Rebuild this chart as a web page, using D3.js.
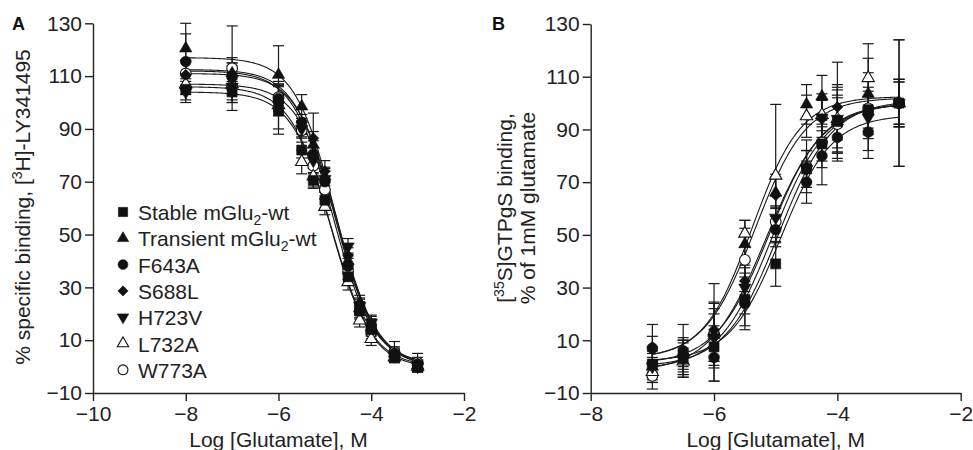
<!DOCTYPE html>
<html>
<head>
<meta charset="utf-8">
<script src="https://cdn.jsdelivr.net/npm/d3@7"></script>
<style>
  body { margin: 0; background: #fff; }
  svg { font-family: "Liberation Sans", Arial, Helvetica, sans-serif; }
  .axis path, .axis line { stroke: #222; stroke-width: 1.4; }
  .axis text { font-size: 21px; fill: #222; }
</style>
</head>
<body>
<div id="app"></div>
<script>
// series (same order in both panels)
var seriesNames = ["Stable mGlu2-wt", "Transient mGlu2-wt", "F643A", "S688L", "H723V", "L732A", "W773A"];
var seriesSymbols = ["square", "triangle", "circle", "diamond", "triangleDown", "triangleOpen", "circleOpen"];

// panel A: [3H]-LY341495 displacement
var doseA = [-8, -7, -6, -5.5, -5.25, -5, -4.5, -4.25, -4, -3.5, -3];
var valuesA = [
  [105, 104, 97, 82, 70.5, 63, 34, 21, 14, 4, 0],
  [120.5, 111, 110.5, 98.5, 84, 72, 40, 22, 15, 5, 0.5],
  [115.5, 110, 101.5, 92.5, 80.5, 70, 38, 23, 15, 5, 1],
  [110.5, 109, 101, 91, 86.5, 74, 42, 24, 16, 4.5, 0.5],
  [104, 106, 99, 90, 78, 71, 45.5, 23, 16.5, 4, 0],
  [107, 107, 99, 77.5, 72, 60.5, 32, 17.5, 10.5, 3.5, 0],
  [111, 113, 102, 89.5, 76, 67, 36, 21, 13, 5.5, 1.5]
];
var errorsA = [
  [4, 4, 9, 3, 3, 3, 3, 2.5, 2.5, 2, 2],
  [9.5, 6, 11, 4.5, 5, 3.5, 3, 2.5, 3, 2, 2],
  [10.5, 5, 5, 3, 5, 4, 3, 3, 3, 2.5, 2.5],
  [5, 6, 6, 3, 9.5, 4, 3, 3, 3, 2, 2],
  [4, 5, 4, 3, 3, 4, 3, 2.5, 3, 2, 2],
  [4, 7, 9, 4.5, 4, 3, 3, 2.5, 2.5, 2, 2],
  [5, 16, 5, 3, 3, 3.5, 3, 3, 2.5, 4, 3.5]
];
// fitted curves A
var topA = [104, 117, 112.5, 111, 107, 106, 112];
var bottomA = [0, 0, 0.5, 0.5, 0, -0.5, 1];
var logMidA = [-4.85, -4.78, -4.78, -4.74, -4.72, -4.87, -4.82];
var hillA = [-1, -1, -1, -1, -1, -1, -1];

// panel B: [35S]GTPgS binding
var doseB = [-7, -6.5, -6, -5.5, -5, -4.5, -4.25, -4, -3.5, -3];
var valuesB = [
  [1, 3, 7.5, 25.5, 39, 75, 84.5, 93, 97.5, 100],
  [0, 5, 12, 46.5, 66, 99.5, 102.5, 93, 103.5, 100],
  [7, 6, 3.5, 24, 52, 70, 80, 87, 89, 100],
  [7.5, 5, 14, 32.5, 65, 76, 94, 98.5, 97, 100],
  [0, 3, 11, 30, 56.5, 75, 94.5, 94, 94.5, 100],
  [-2, 2, 13, 50.5, 72.5, 95, 95.5, 94, 109.5, 100],
  [-3.5, 4, 12.5, 40.5, 55, 76, 85, 92, 98, 100]
];
var errorsB = [
  [5, 7, 8, 10, 8.5, 7, 9, 10, 7, 24],
  [6, 6, 10, 9, 6, 7.5, 8, 12, 8, 8],
  [9, 10, 9, 10, 5, 8, 11, 8, 7, 9],
  [4, 5, 10, 6, 8, 10, 7, 17, 9, 8],
  [5, 6, 9, 10, 4, 7, 9, 13, 8, 9],
  [4, 5, 18.5, 5, 27, 8, 6, 8, 13, 9],
  [5, 6, 12, 12, 6, 6, 7, 14, 19, 24]
];
var topB = [101, 102, 95.5, 100, 100, 102.5, 100];
var bottomB = [0, 3, 2, 1, -1, 3, -2];
var logMidB = [-4.95, -5.33, -4.92, -5.1, -5.05, -5.38, -5.15];
var hillB = [1, 1.05, 1.05, 1, 1, 1.1, 0.95];

var yTicks = [-10, 10, 30, 50, 70, 90, 110, 130];

var width = 973, height = 450;

var svg = d3.select("#app").append("svg")
    .attr("width", width)
    .attr("height", height);

// marker drawing
function symbolPath(kind, size) {
  var s = size || 1;
  if (kind == "square") return d3.symbol(d3.symbolSquare, 100 * s)();
  if (kind == "circle" || kind == "circleOpen") return d3.symbol(d3.symbolCircle, 90 * s)();
  if (kind == "diamond") return d3.symbol(d3.symbolSquare, 60 * s)();
  return d3.symbol(d3.symbolTriangle, 66 * s)();
}
function symbolTransform(kind) {
  if (kind == "diamond") return " rotate(45)";
  if (kind == "triangleDown") return " rotate(180)";
  return "";
}
function drawMarker(g, kind, x, y, size) {
  var open = kind == "triangleOpen" || kind == "circleOpen";
  g.append("path")
    .attr("d", symbolPath(kind, size))
    .attr("transform", "translate(" + x + "," + y + ")" + symbolTransform(kind))
    .style("fill", open ? "#fff" : "#111")
    .style("stroke", "#111")
    .style("stroke-width", open ? 1.1 : 0.6);
}

function fourPL(bottom, top, mid, hill) {
  return function(x) { return bottom + (top - bottom) / (1 + Math.pow(10, (mid - x) * hill)); };
}

function drawPanel(opt) {
  var x = d3.scaleLinear().domain(opt.xDomain).range(opt.xRange);
  var y = d3.scaleLinear().domain([-10, 130]).range(opt.yRange);
  var g = svg.append("g");

  g.append("g")
    .attr("class", "axis")
    .attr("transform", "translate(0," + opt.yRange[0] + ")")
    .call(d3.axisBottom(x).tickValues(opt.xTicks).tickSize(8).tickSizeOuter(0).tickPadding(5).tickFormat(d3.format("d")));

  g.append("g")
    .attr("class", "axis")
    .attr("transform", "translate(" + opt.xRange[0] + ",0)")
    .call(d3.axisLeft(y).tickValues(yTicks).tickSize(8).tickSizeOuter(0).tickPadding(3).tickFormat(d3.format("d")));

  g.selectAll(".axis text").attr("fill", "#222");

  // fitted curves
  var line = d3.line().x(function(d) { return x(d[0]); }).y(function(d) { return y(d[1]); });
  opt.top.forEach(function(t, i) {
    var f = fourPL(opt.bottom[i], t, opt.mid[i], opt.hill[i]);
    var pts = d3.range(opt.dose[0], opt.dose[opt.dose.length - 1] + 0.001, 0.02).map(function(v) { return [v, f(v)]; });
    g.append("path")
      .attr("d", line(pts))
      .style("fill", "none")
      .style("stroke", "#1a1a1a")
      .style("stroke-width", 1.1);
  });

  // draw last series first so the wild-type squares end on top
  var order = d3.range(opt.values.length).reverse();

  // error bars
  order.forEach(function(i) {
    opt.values[i].forEach(function(v, j) {
      var cx = x(opt.dose[j]), e = opt.errors[i][j];
      var y0 = y(v - e), y1 = y(v + e);
      g.append("line").attr("x1", cx).attr("x2", cx).attr("y1", y0).attr("y2", y1)
        .style("stroke", "#1a1a1a").style("stroke-width", 1.2);
      [y0, y1].forEach(function(yy) {
        g.append("line").attr("x1", cx - 5.5).attr("x2", cx + 5.5).attr("y1", yy).attr("y2", yy)
          .style("stroke", "#1a1a1a").style("stroke-width", 1.2);
      });
    });
  });

  // markers
  order.forEach(function(i) {
    opt.values[i].forEach(function(v, j) {
      drawMarker(g, seriesSymbols[i], x(opt.dose[j]), y(v));
    });
  });

  // panel letter
  svg.append("text")
    .attr("x", opt.letterX).attr("y", 30)
    .style("font-size", "18px").style("font-weight", "bold").style("fill", "#111")
    .text(opt.letter);

  // x label
  svg.append("text")
    .attr("x", (opt.xRange[0] + opt.xRange[1]) / 2)
    .attr("y", 447)
    .attr("text-anchor", "middle")
    .style("font-size", "21px").style("fill", "#222")
    .text("Log [Glutamate], M");

  return g;
}

drawPanel({
  letter: "A", letterX: 12,
  xDomain: [-10, -2], xRange: [93, 464], yRange: [393, 23.3],
  xTicks: [-10, -8, -6, -4, -2],
  dose: doseA, values: valuesA, errors: errorsA,
  top: topA, bottom: bottomA, mid: logMidA, hill: hillA
});

drawPanel({
  letter: "B", letterX: 492,
  xDomain: [-8, -2], xRange: [590.7, 960.7], yRange: [393, 24],
  xTicks: [-8, -6, -4, -2],
  dose: doseB, values: valuesB, errors: errorsB,
  top: topB, bottom: bottomB, mid: logMidB, hill: hillB
});

// y labels
var labA = svg.append("text")
    .attr("transform", "translate(30,207) rotate(-90)")
    .attr("text-anchor", "middle")
    .style("font-size", "21px").style("fill", "#222");
labA.append("tspan").text("% specific binding, [");
labA.append("tspan").attr("dy", -8).style("font-size", "14px").text("3");
labA.append("tspan").attr("dy", 8).text("H]-LY341495");

var labB1 = svg.append("text")
    .attr("transform", "translate(512,208) rotate(-90)")
    .attr("text-anchor", "middle")
    .style("font-size", "21px").style("fill", "#222");
labB1.append("tspan").text("[");
labB1.append("tspan").attr("dy", -8).style("font-size", "14px").text("35");
labB1.append("tspan").attr("dy", 8).text("S]GTPgS binding,");

svg.append("text")
    .attr("transform", "translate(535,208) rotate(-90)")
    .attr("text-anchor", "middle")
    .style("font-size", "21px").style("fill", "#222")
    .text("% of 1mM glutamate");

// legend
var legend = svg.append("g");
seriesNames.forEach(function(name, i) {
  var ly = 212 + i * 26.3;
  drawMarker(legend, seriesSymbols[i], 123, ly, 0.85);
  var t = legend.append("text")
    .attr("x", 138).attr("y", ly + 8)
    .style("font-size", "21px").style("fill", "#222");
  var k = name.indexOf("2-wt");
  if (k >= 0) {
    t.append("tspan").text(name.slice(0, k));
    t.append("tspan").attr("dy", 5).style("font-size", "14px").text("2");
    t.append("tspan").attr("dy", -5).text(name.slice(k + 1));
  } else {
    t.text(name);
  }
});
</script>
</body>
</html>
